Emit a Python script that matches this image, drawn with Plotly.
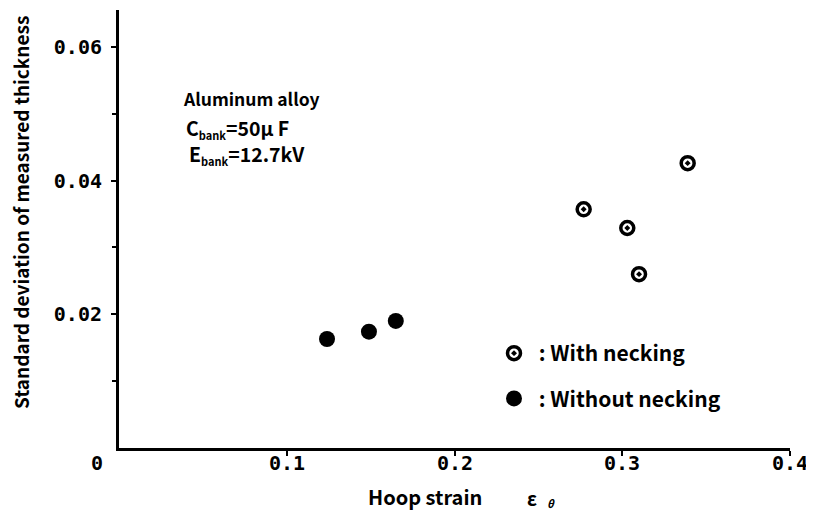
import plotly.graph_objects as go

# ---- data ----
with_x = [0.277, 0.303, 0.310, 0.339]
with_y = [0.0357, 0.0329, 0.0260, 0.0426]
without_x = [0.124, 0.149, 0.165]
without_y = [0.0163, 0.0174, 0.0190]

x_tickvals = [0.1, 0.2, 0.3, 0.4]
x_ticktext = ["0.1", "0.2", "0.3", "0.4"]
y_tickvals = [0.02, 0.04, 0.06]
y_ticktext = ["0.02", "0.04", "0.06"]

# page body has an 8px margin, so the figure is sized to fit the window
OFF = 8
W, H = 814 - OFF, 514 - OFF
ML, MR, MT, MB = 119 - OFF, 24, 10 - OFF, 66
PW, PH = W - ML - MR, H - MT - MB

def px(sx):  # screen px -> paper x
    return (sx - OFF - ML) / PW

def py(sy):  # screen px -> paper y
    return (H - MB - (sy - OFF)) / PH

TXT = "Noto Sans CJK JP"
MONO = "DejaVu Sans Mono"
BLK = "black"

fig = go.Figure()
fig.add_trace(go.Scatter(
    x=with_x, y=with_y, mode="markers", name="\u00a0: With necking",
    legendgroup="a",
    marker=dict(symbol="circle-open-dot", size=13, color=BLK,
                line=dict(width=3.5, color=BLK)),
))
fig.add_trace(go.Scatter(
    x=without_x, y=without_y, mode="markers", name="\u00a0: Without necking",
    legendgroup="b",
    marker=dict(symbol="circle", size=16, color=BLK, line=dict(width=0)),
))

fig.update_layout(
    width=W, height=H,
    margin=dict(l=ML, r=MR, t=MT, b=MB),
    paper_bgcolor="white", plot_bgcolor="white",
    showlegend=True,
    legend=dict(x=px(494), y=py(333), xanchor="left", yanchor="top",
                font=dict(family=TXT, size=21, color=BLK, weight="bold"),
                bgcolor="rgba(0,0,0,0)", tracegroupgap=15,
                itemsizing="trace"),
    xaxis=dict(range=[0, 0.4], showline=True, linewidth=3, linecolor=BLK,
               showgrid=False, zeroline=False, ticks="outside", ticklen=5,
               tickwidth=2, tickcolor=BLK,
               tickvals=x_tickvals, showticklabels=False),
    yaxis=dict(range=[0, 0.0655], showline=True, linewidth=3, linecolor=BLK,
               showgrid=False, zeroline=False, ticks="outside", ticklen=5,
               tickwidth=2, tickcolor=BLK,
               tickvals=y_tickvals, ticktext=y_ticktext, ticklabelstandoff=5,
               minor=dict(tickvals=[0.01, 0.03, 0.05], ticks="outside", ticklen=4,
                          tickwidth=2, tickcolor=BLK),
               tickfont=dict(family=MONO, size=20, color=BLK, weight="bold")),
)

ann = []
# x tick labels, placed on the x scale
for v, t in zip(x_tickvals, x_ticktext):
    ann.append(dict(x=v, xref="x", y=py(463), yref="paper", text=t,
                    showarrow=False, xanchor="center", yanchor="middle",
                    font=dict(family=MONO, size=20, color=BLK, weight="bold")))
# origin label
ann.append(dict(x=px(97), y=py(463), xref="paper", yref="paper", text="0",
                showarrow=False, xanchor="center", yanchor="middle",
                font=dict(family=MONO, size=20, color=BLK, weight="bold")))
# y title
ann.append(dict(x=px(20), y=py(213), xref="paper", yref="paper",
                text="Standard deviation of measured thickness", textangle=-90,
                showarrow=False, xanchor="center", yanchor="middle",
                font=dict(family=TXT, size=19, color=BLK, weight="bold")))
# x title
ann.append(dict(x=px(366), y=py(496), xref="paper", yref="paper",
                text="Hoop strain", showarrow=False, xanchor="left", yanchor="middle",
                font=dict(family=TXT, size=20, color=BLK, weight="bold")))
ann.append(dict(x=px(525), y=py(497), xref="paper", yref="paper",
                text="ε", showarrow=False, xanchor="left", yanchor="middle",
                font=dict(family=TXT, size=19, color=BLK, weight="bold")))
ann.append(dict(x=px(545), y=py(503), xref="paper", yref="paper",
                text="<i>θ</i>", showarrow=False, xanchor="left", yanchor="middle",
                font=dict(family=TXT, size=11, color=BLK, weight="bold")))
# condition text
SUB = "<sub><span style='font-size:11px'>bank</span></sub>"
ann.append(dict(x=px(181), y=py(99), xref="paper", yref="paper",
                text="Aluminum alloy", showarrow=False, xanchor="left", yanchor="middle",
                font=dict(family=TXT, size=17.5, color=BLK, weight="bold")))
ann.append(dict(x=px(184), y=py(128), xref="paper", yref="paper",
                text="C" + SUB + "=50μ F", showarrow=False, xanchor="left", yanchor="middle",
                font=dict(family=TXT, size=19.5, color=BLK, weight="bold")))
ann.append(dict(x=px(187), y=py(154), xref="paper", yref="paper",
                text="E" + SUB + "=12.7kV", showarrow=False, xanchor="left", yanchor="middle",
                font=dict(family=TXT, size=19.5, color=BLK, weight="bold")))
fig.update_layout(annotations=ann)

fig.write_html("out.html")
